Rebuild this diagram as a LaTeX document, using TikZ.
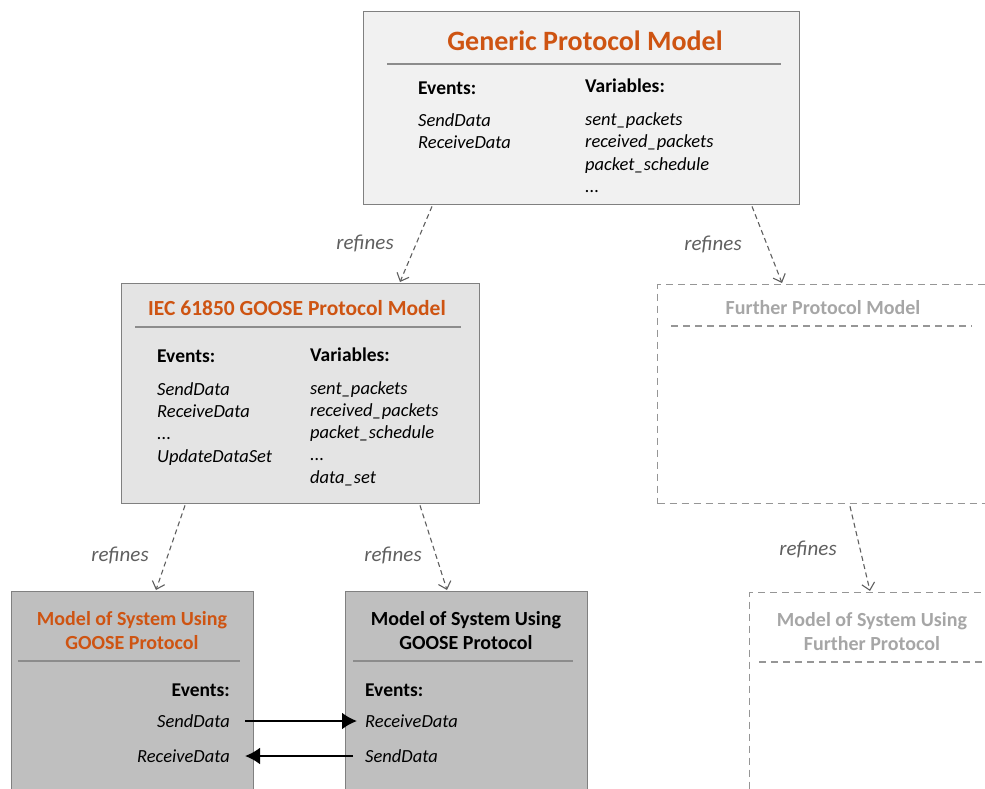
\documentclass[tikz,border=0pt]{standalone}
\usepackage{fontspec}
\setmainfont{Carlito}
\usetikzlibrary{arrows.meta,calc}
\definecolor{accent}{RGB}{206,84,18}
\definecolor{frame}{RGB}{128,128,128}
\definecolor{rule}{RGB}{140,140,140}
\definecolor{faint}{RGB}{166,166,166}
\definecolor{dashgray}{RGB}{150,150,150}
\definecolor{lbl}{RGB}{95,95,95}
\definecolor{fillA}{RGB}{241,241,241}
\definecolor{fillB}{RGB}{228,228,228}
\definecolor{fillC}{RGB}{191,191,191}
\begin{document}
\begin{tikzpicture}[x=1pt,y=-1pt,
  box/.style={draw=frame,line width=1.4pt,inner sep=0,anchor=north west},
  ghost/.style={draw=dashgray,line width=1.3pt,dash pattern=on 7pt off 5pt,inner sep=0,anchor=north west},
  sepline/.style={draw=rule,line width=1.2pt},
  ghostline/.style={draw=dashgray,line width=1.3pt,dash pattern=on 7pt off 5pt},
  txt/.style={inner sep=0,text height=16pt,text depth=4pt,font=\fontsize{18.5}{22}\selectfont\itshape},
  head/.style={inner sep=0,text height=18pt,text depth=4pt,font=\fontsize{19.5}{22}\selectfont\bfseries},
  ttl/.style={inner sep=0,text height=22pt,text depth=4pt,text=accent,font=\fontsize{28}{30}\selectfont\bfseries},
  subttl/.style={inner sep=0,text height=17pt,text depth=4pt,font=\fontsize{21.5}{24}\selectfont\bfseries},
  furttl/.style={inner sep=0,text height=16pt,text depth=4pt,text=faint,font=\fontsize{20}{22}\selectfont\bfseries},
  twoline/.style={inner sep=0,align=center,font=\fontsize{20}{24}\selectfont\bfseries},
  refine/.style={draw=lbl,line width=1.1pt,dash pattern=on 5pt off 3.5pt,-{Straight Barb[length=7pt,width=13pt,line width=1.1pt]}},
  reflabel/.style={inner sep=0,text=lbl,font=\fontsize{21}{22}\selectfont\itshape},
  flow/.style={draw=black,line width=2.4pt,-{Latex[length=15pt,width=17pt]}}]
\useasboundingbox (0,0) rectangle (985,789);

% ---------- Generic protocol model ----------
\node[box,fill=fillA,minimum width=436pt,minimum height=193pt] (gen) at (363,11) {};
\node[ttl] (gentitle) at (585,42) {Generic Protocol Model};
\draw[sepline] (387,64) -- (781,64);
\node[head,anchor=west] (genev) at (418,88) {Events:};
\node[head,anchor=west] (genvar) at (585,86) {Variables:};
\node[txt,anchor=west] (gen1) at (418,121) {SendData};
\node[txt,anchor=west] (gen2) at (418,143) {ReceiveData};
\node[txt,anchor=west] (genv1) at (585,120) {sent\_packets};
\node[txt,anchor=west] (genv2) at (585,142) {received\_packets};
\node[txt,anchor=west] (genv3) at (585,164) {packet\_schedule};
\node[txt,anchor=west] (genv4) at (585,186) {...};

% ---------- IEC 61850 GOOSE protocol model ----------
\node[box,fill=fillB,minimum width=358pt,minimum height=220pt] (iec) at (121,283) {};
\node[subttl,text=accent] (iectitle) at (297,309) {IEC 61850 GOOSE Protocol Model};
\draw[sepline] (135,327) -- (461,327);
\node[head,anchor=west] (iecev) at (157,355) {Events:};
\node[head,anchor=west] (iecvar) at (310,354) {Variables:};
\node[txt,anchor=west] (iec1) at (157,389) {SendData};
\node[txt,anchor=west] (iec2) at (157,411) {ReceiveData};
\node[txt,anchor=west] (iec3) at (157,433) {...};
\node[txt,anchor=west] (iec4) at (157,456) {UpdateDataSet};
\node[txt,anchor=west] (iecv1) at (310,388) {sent\_packets};
\node[txt,anchor=west] (iecv2) at (310,410) {received\_packets};
\node[txt,anchor=west] (iecv3) at (310,432) {packet\_schedule};
\node[txt,anchor=west] (iecv4) at (310,454) {...};
\node[txt,anchor=west] (iecv5) at (310,477) {data\_set};

% ---------- Further protocol model (outline only) ----------
\node[ghost,minimum width=360pt,minimum height=219pt] (fur) at (657,284) {};
\node[furttl] (furtitle) at (823,308) {Further Protocol Model};
\draw[ghostline] (671,326) -- (972,326);

% ---------- System models ----------
\node[box,fill=fillC,minimum width=242pt,minimum height=215pt] (sysA) at (11,591) {};
\node[twoline,text=accent] (sysAtitle) at (132,631) {Model of System Using\\GOOSE Protocol};
\draw[sepline] (18,661) -- (240,661);
\node[head,anchor=east] (sysAev) at (230,689) {Events:};
\node[txt,anchor=east] (sysAsend) at (230,721) {SendData};
\node[txt,anchor=east] (sysArecv) at (230,756) {ReceiveData};

\node[box,fill=fillC,minimum width=242pt,minimum height=215pt] (sysB) at (345,591) {};
\node[twoline,text=black] (sysBtitle) at (466,631) {Model of System Using\\GOOSE Protocol};
\draw[sepline] (353,661) -- (573,661);
\node[head,anchor=west] (sysBev) at (365,689) {Events:};
\node[txt,anchor=west] (sysBrecv) at (365,721) {ReceiveData};
\node[txt,anchor=west] (sysBsend) at (365,756) {SendData};

\node[ghost,minimum width=260pt,minimum height=215pt] (sysC) at (749,592) {};
\node[twoline,text=faint] (sysCtitle) at (872,632) {Model of System Using\\Further Protocol};
\draw[ghostline] (759,662) -- (982,662);

% ---------- event exchange ----------
\draw[flow] ([xshift=15pt]sysAsend.east) -- ([xshift=-8pt]sysBrecv.west);
\draw[flow] ([xshift=-12pt]sysBsend.west) -- ([xshift=15pt]sysArecv.east);

% ---------- refinement relations ----------
\draw[refine] ($(gen.south west)+(69,1)$) -- ($(iec.north west)+(279,-1)$);
\node[reflabel] (r1) at (365,243) {refines};
\draw[refine] ($(gen.south west)+(389,1)$) -- ($(fur.north west)+(125,-1)$);
\node[reflabel] (r2) at (713,244) {refines};
\draw[refine] ($(iec.south west)+(64,1)$) -- ($(sysA.north west)+(145,-1)$);
\node[reflabel] (r3) at (120,555) {refines};
\draw[refine] ($(iec.south west)+(299,1)$) -- ($(sysB.north west)+(102,-1)$);
\node[reflabel] (r4) at (393,555) {refines};
\draw[refine] ($(fur.south west)+(193,2)$) -- ($(sysC.north west)+(121,-1)$);
\node[reflabel] (r5) at (808,549) {refines};
\end{tikzpicture}
\end{document}
